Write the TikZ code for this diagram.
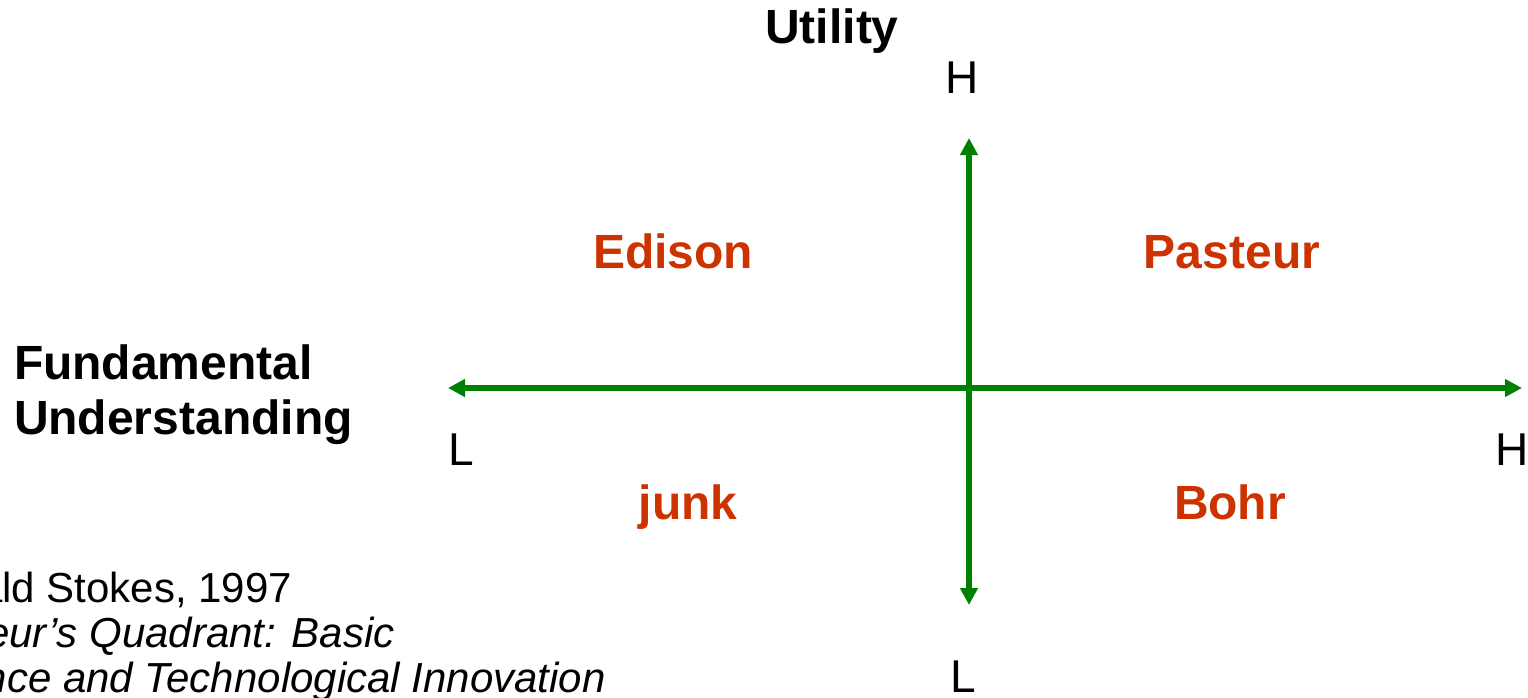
\documentclass[tikz,border=0pt]{standalone}
\usepackage{fontspec}
\setmainfont{Liberation Sans}
\usetikzlibrary{arrows.meta}
\definecolor{axisgreen}{HTML}{008000}
\definecolor{quadred}{HTML}{CC3300}
\begin{document}
\begin{tikzpicture}[x=0.5pt,y=-0.5pt,
  lbl/.style={inner sep=0pt,outer sep=0pt,anchor=base,font=\fontsize{24}{28}\selectfont\bfseries},
  quad/.style={lbl,text=quadred},
  tick/.style={inner sep=0pt,outer sep=0pt,anchor=base,font=\fontsize{23}{27}\selectfont},
  axis/.style={draw=axisgreen,line width=3pt,-{Triangle[length=8.5pt,width=8.5pt]}},
  cite/.style={inner sep=0pt,outer sep=0pt,anchor=base west,font=\fontsize{21}{22.5}\selectfont}]
\useasboundingbox (0,0) rectangle (1528,697);
\clip (0,0) rectangle (1528,697);
% axes
\coordinate (o) at (969,388);
\coordinate (xl) at (448,388);
\coordinate (xr) at (1522,388);
\coordinate (yt) at (969,138);
\coordinate (yb) at (969,605);
\draw[axis] (o) -- (xl);
\draw[axis] (o) -- (xr);
\draw[axis] (o) -- (yt);
\draw[axis] (o) -- (yb);
% titles
\node[lbl] (util) at (832,43) {Utility};
\node[lbl,anchor=base west] (fund) at (14,379) {Fundamental};
\node[lbl,anchor=base west] (under) at (14,434) {Understanding};
% ticks
\node[tick] (ht) at (962,93) {H};
\node[tick] (lb) at (963,692) {L};
\node[tick] (ll) at (461,465) {L};
\node[tick] (hr) at (1512,465) {H};
% quadrants
\node[quad] (edison) at (673,268) {Edison};
\node[quad] (pasteur) at (1232,268) {Pasteur};
\node[quad] (junk) at (688,519) {junk};
\node[quad] (bohr) at (1230,519) {Bohr};
% citation
\node[cite] (c1) at (-98,602) {Donald Stokes, 1997};
\node[cite] (c2) at (-98,647) {\itshape Pasteur’s Quadrant: Basic};
\node[cite] (c3) at (-98,692) {\itshape Science and Technological Innovation};
\end{tikzpicture}
\end{document}
